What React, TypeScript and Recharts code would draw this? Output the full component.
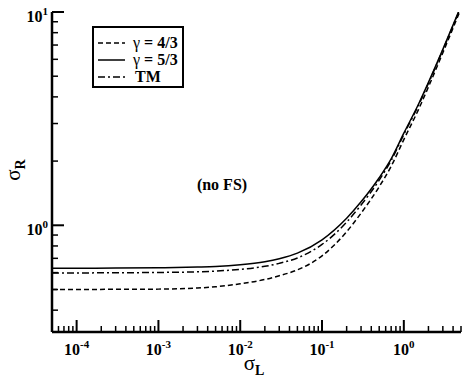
import React from 'react';
import { LineChart, Line, XAxis, YAxis, Legend, Customized } from 'recharts';

// sigma_L sample points (log axis)
const sigmaL = [5e-5, 1e-4, 3e-4, 1e-3, 3e-3, 5e-3, 1e-2, 2e-2, 3e-2, 5e-2, 0.1, 0.2, 0.3, 0.5, 0.7, 1, 1.5, 2, 3, 5];
// sigma_R for each case
const gamma43 = [0.5, 0.5, 0.501, 0.502, 0.508, 0.515, 0.532, 0.557, 0.58, 0.618, 0.719, 0.933, 1.14, 1.516, 1.891, 2.523, 3.467, 4.457, 6.442, 10.38];
const gamma53 = [0.6295, 0.6295, 0.63, 0.632, 0.637, 0.641, 0.653, 0.675, 0.697, 0.74, 0.855, 1.079, 1.288, 1.671, 2.049, 2.704, 3.673, 4.677, 6.683, 10.67];
const tm = [0.598, 0.598, 0.599, 0.601, 0.605, 0.61, 0.621, 0.642, 0.663, 0.703, 0.813, 1.035, 1.245, 1.628, 2.012, 2.666, 3.631, 4.634, 6.637, 10.59];

const xDecades = [-5, -4, -3, -2, -1, 0];
const yDecades = [-1, 0];
const xMajorLabels = ['-4', '-3', '-2', '-1', '0'];
const yMajorLabels = ['0', '1'];

const X_DOMAIN = [5e-5, 5];
const Y_DOMAIN = [0.316, 10];

const inRange = (v: number, d: number[]) => v >= d[0] * 0.9999 && v <= d[1] * 1.0001;
const logTicks = (decades: number[], d: number[]) => {
  const out: number[] = [];
  decades.forEach(e => {
    for (let m = 1; m <= 9; m++) {
      const v = m * Math.pow(10, e);
      if (inRange(v, d)) out.push(v);
    }
  });
  const top = Math.pow(10, decades[decades.length - 1] + 1);
  if (inRange(top, d)) out.push(top);
  return out;
};
const xTicks = logTicks(xDecades, X_DOMAIN);
const yTicks = logTicks(yDecades, Y_DOMAIN);

const isDecade = (v: number) => Math.abs(Math.log10(v) - Math.round(Math.log10(v))) < 1e-6;
const expOf = (v: number) => String(Math.round(Math.log10(v)));

const data = sigmaL.map((x, i) => ({ x, g43: gamma43[i], g53: gamma53[i], tm: tm[i] }));

const FONT = '"Liberation Serif", "DejaVu Serif", serif';

const BottomTick = (props: any) => {
  const { x, y, payload } = props;
  const major = isDecade(payload.value);
  const e = expOf(payload.value);
  return (
    <g>
      <line x1={x} x2={x} y1={y} y2={y - (major ? 12 : 6)} stroke="#000" strokeWidth={major ? 2 : 1.5} />
      {major && xMajorLabels.includes(e) && (
        <text x={x} y={y + 23} textAnchor="middle" fontFamily={FONT} fontWeight="bold" fontSize={16} fill="#000">
          10<tspan dy={-7} fontSize={11}>{e}</tspan>
        </text>
      )}
    </g>
  );
};

const TopTick = (props: any) => {
  const { x, y, payload } = props;
  const major = isDecade(payload.value);
  return <line x1={x} x2={x} y1={y} y2={y + (major ? 12 : 6)} stroke="#000" strokeWidth={major ? 2 : 1.5} />;
};

const LeftTick = (props: any) => {
  const { x, y, payload } = props;
  const major = isDecade(payload.value);
  const e = expOf(payload.value);
  return (
    <g>
      <line x1={x} x2={x + (major ? 12 : 6)} y1={y} y2={y} stroke="#000" strokeWidth={major ? 2 : 1.5} />
      {major && yMajorLabels.includes(e) && (
        <text x={x - 4} y={y + 10} textAnchor="end" fontFamily={FONT} fontWeight="bold" fontSize={16} fill="#000">
          10<tspan dy={-7} fontSize={11}>{e}</tspan>
        </text>
      )}
    </g>
  );
};

const RightTick = (props: any) => {
  const { x, y, payload } = props;
  const major = isDecade(payload.value);
  return <line x1={x} x2={x - (major ? 12 : 6)} y1={y} y2={y} stroke="#000" strokeWidth={major ? 2 : 1.5} />;
};

const legendRows = [
  { name: 'γ', rest: ' = 4/3', dash: '5 3' },
  { name: 'γ', rest: ' = 5/3', dash: undefined },
  { name: '', rest: 'TM', dash: '7 3 2 3' },
];

const LegendBox = () => (
  <svg width={92} height={62} style={{ display: 'block' }}>
    <rect x={1} y={1} width={90} height={60} fill="#fff" stroke="#000" strokeWidth={2} />
    {legendRows.map((r, i) => {
      const cy = 17 + i * 17;
      return (
        <g key={i}>
          <line x1={6} x2={33} y1={cy} y2={cy} stroke="#000" strokeWidth={1.5} strokeDasharray={r.dash} />
          <text x={r.name ? 41 : 43} y={cy + 5} fontFamily={FONT} fontSize={16} fill="#000">
            {r.name}
            <tspan fontWeight="bold">{r.rest}</tspan>
          </text>
        </g>
      );
    })}
  </svg>
);

const Annotations = () => (
  <g>
    <text x={222} y={190} textAnchor="middle" fontFamily={FONT} fontWeight="bold" fontSize={16} fill="#000">(no FS)</text>
    <text x={254} y={370} textAnchor="middle" fontFamily={FONT} fontSize={21} fill="#000">
      σ<tspan dy={5} fontSize={14} fontWeight="bold">L</tspan>
    </text>
    <text x={0} y={0} transform="translate(20,170) rotate(-90)" textAnchor="middle" fontFamily={FONT} fontSize={21} fill="#000">
      σ<tspan dy={5} fontSize={14} fontWeight="bold">R</tspan>
    </text>
  </g>
);

const App: React.FC = () => (
  <div style={{ position: 'absolute', left: 0, top: 0, width: 463, height: 381, background: '#fff' }}>
    <LineChart width={463} height={381} data={data} margin={{ top: 12, right: 2, bottom: 0, left: 0 }}>
      <XAxis
        xAxisId="b"
        dataKey="x"
        type="number"
        scale="log"
        domain={X_DOMAIN}
        ticks={xTicks}
        interval={0}
        allowDataOverflow
        height={49}
        tickSize={0}
        tickMargin={0}
        tickLine={false}
        axisLine={{ stroke: '#000', strokeWidth: 2.5 }}
        tick={<BottomTick />}
      />
      <XAxis
        xAxisId="t"
        orientation="top"
        dataKey="x"
        type="number"
        scale="log"
        domain={X_DOMAIN}
        ticks={xTicks}
        interval={0}
        allowDataOverflow
        height={0}
        tickSize={0}
        tickMargin={0}
        tickLine={false}
        axisLine={{ stroke: '#000', strokeWidth: 2.5 }}
        tick={<TopTick />}
      />
      <YAxis
        yAxisId="l"
        type="number"
        scale="log"
        domain={Y_DOMAIN}
        ticks={yTicks}
        interval={0}
        allowDataOverflow
        width={52}
        tickSize={0}
        tickMargin={0}
        tickLine={false}
        axisLine={{ stroke: '#000', strokeWidth: 2.5 }}
        tick={<LeftTick />}
      />
      <YAxis
        yAxisId="r"
        orientation="right"
        type="number"
        scale="log"
        domain={Y_DOMAIN}
        ticks={yTicks}
        interval={0}
        allowDataOverflow
        width={0}
        tickSize={0}
        tickMargin={0}
        tickLine={false}
        axisLine={{ stroke: '#000', strokeWidth: 2.5 }}
        tick={<RightTick />}
      />
      <Line xAxisId="b" yAxisId="l" type="monotone" dataKey="g43" stroke="#000" strokeWidth={1.5} strokeDasharray="5 3" dot={false} isAnimationActive={false} />
      <Line xAxisId="b" yAxisId="l" type="monotone" dataKey="g53" stroke="#000" strokeWidth={1.5} dot={false} isAnimationActive={false} />
      <Line xAxisId="b" yAxisId="l" type="monotone" dataKey="tm" stroke="#000" strokeWidth={1.5} strokeDasharray="7 3 2 3" dot={false} isAnimationActive={false} />
      <Legend
        layout="vertical"
        align="center"
        verticalAlign="middle"
        content={() => <LegendBox />}
        wrapperStyle={{ left: 92, top: 26, width: 92, height: 62 }}
      />
      <Customized component={Annotations} />
    </LineChart>
  </div>
);

export default App;
